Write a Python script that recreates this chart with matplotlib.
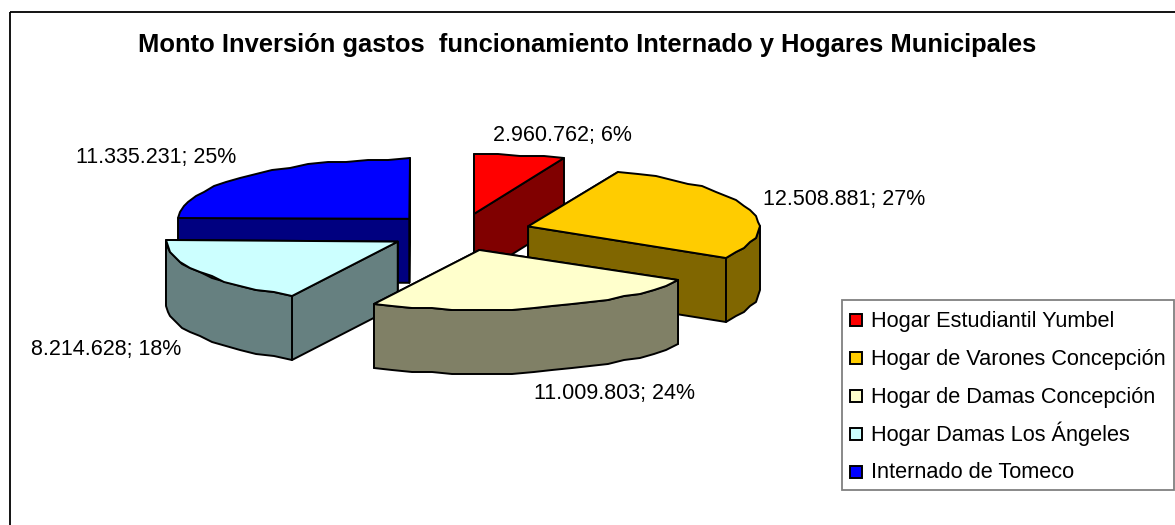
# -*- coding: utf-8 -*-
import numpy as np
import matplotlib
matplotlib.use("Agg")
import matplotlib.pyplot as plt
from matplotlib.patches import Polygon, Rectangle

plt.rcParams['font.family'] = ['Liberation Sans', 'DejaVu Sans']

names = ["Hogar Estudiantil Yumbel", "Hogar de Varones Concepción", "Hogar de Damas Concepción",
         "Hogar Damas Los Ángeles", "Internado de Tomeco"]
values = [2960762, 12508881, 11009803, 8214628, 11335231]
top_colors = ["#FF0000", "#FFCC00", "#FFFFCC", "#CCFFFF", "#0000FF"]
side_colors = ["#800000", "#806600", "#808066", "#668080", "#000080"]

# label centres in pixels, same order as values
label_x = [562, 844, 614, 106, 156]
label_y = [135, 199, 393, 350, 158]

title = "Monto Inversión gastos  funcionamiento Internado y Hogares Municipales"

# pie geometry in pixels
cx, cy = 459.6, 232.1
rx, ry = 231, 60
ex, ey = 72, 18.6   # explode
depth = 64
draw_order = [4, 0, 1, 3, 2]   # painter order, back to front

fig = plt.figure(figsize=(11.75, 5.25), dpi=100)
ax = fig.add_axes([0, 0, 1, 1])
ax.set_xlim(0, 1175)
ax.set_ylim(525, 0)
ax.axis("off")

# chart border, right and bottom sides fall outside the picture
ax.add_patch(Rectangle((10, 12), 1300, 700, fill=False, ec="black", lw=1.3))

total = sum(values)
edges = np.concatenate([[0], np.cumsum(values)]) / total * 2 * np.pi


def arc_points(a0, a1, x0, y0):
    # coarse steps and rounding give the slightly rough arc of the original
    n = max(int(np.degrees(a1 - a0) / 5), 2)
    ang = np.linspace(a0, a1, n + 1)
    xs = np.round((x0 + rx * np.sin(ang)) / 2) * 2
    ys = np.round((y0 - ry * np.cos(ang)) / 2) * 2
    return np.column_stack([xs, ys])


for i in draw_order:
    a0, a1 = edges[i], edges[i + 1]
    mid = (a0 + a1) / 2
    x0 = cx + ex * np.sin(mid)
    y0 = cy - ey * np.cos(mid)
    arc = arc_points(a0, a1, x0, y0)
    down = np.array([0, depth])
    apex = np.array([x0, y0])
    style = dict(ec="black", lw=1.4, joinstyle="round")

    # radial walls, the one further back first
    for p in sorted((arc[0], arc[-1]), key=lambda q: q[1]):
        ax.add_patch(Polygon([apex, p, p + down, apex + down], fc=side_colors[i], **style))

    # outer wall, only the part facing the viewer
    f0, f1 = max(a0, np.pi / 2), min(a1, 3 * np.pi / 2)
    if f1 > f0:
        front = arc_points(f0, f1, x0, y0)
        ax.add_patch(Polygon(np.vstack([front, (front + down)[::-1]]), fc=side_colors[i], **style))

    # top face
    ax.add_patch(Polygon(np.vstack([apex, arc]), fc=top_colors[i], **style))

ax.text(587, 45, title, ha="center", va="center", fontsize=18.4, fontweight="bold", color="black")

for i in range(len(values)):
    txt = f"{values[i]:,}".replace(",", ".") + f"; {round(100 * values[i] / total)}%"
    ax.text(label_x[i], label_y[i], txt, ha="center", va="center", fontsize=15.5, color="black")

# legend drawn by hand, ax.legend makes the row with the accent taller than the others
ax.add_patch(Rectangle((842, 300), 332, 190, fc="white", ec="#808080", lw=1.3))
for i in range(len(names)):
    row_y = 320 + 38 * i
    ax.add_patch(Rectangle((850, row_y - 6), 12, 12, fc=top_colors[i], ec="black", lw=1.4))
    ax.text(871, row_y + 6.5, names[i], ha="left", va="baseline", fontsize=15.7, color="black")

fig.savefig("out.png", dpi=100)
